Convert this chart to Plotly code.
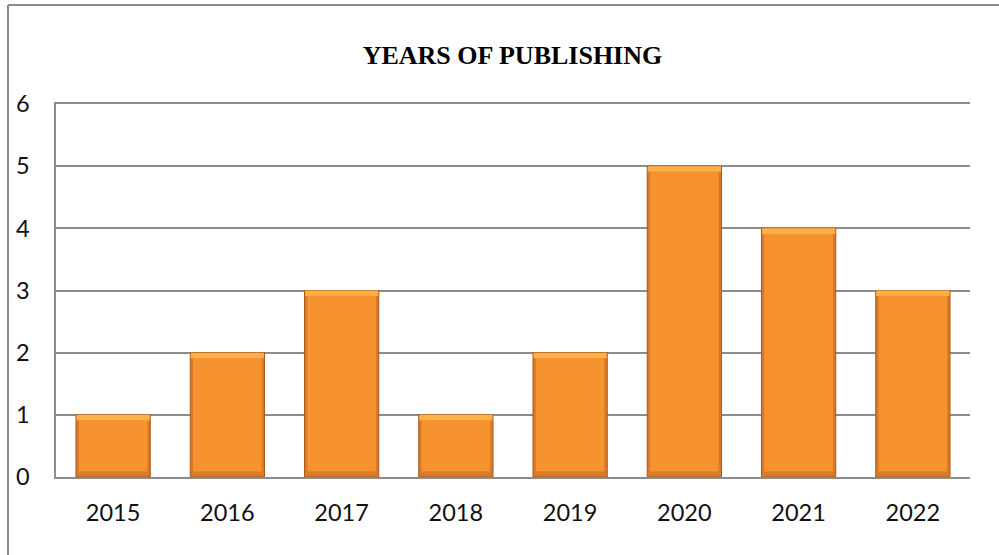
import plotly.graph_objects as go

years = ["2015", "2016", "2017", "2018", "2019", "2020", "2021", "2022"]
counts = [1, 2, 3, 1, 2, 5, 4, 3]
y_ticks = [0, 1, 2, 3, 4, 5, 6]
title_text = "YEARS OF PUBLISHING"

bar_w = 0.65
inner_w = 0.60
bevel = 0.09
n = len(counts)

fig = go.Figure()
# outer (edge) bar
fig.add_trace(go.Bar(
    x=years, y=counts, width=[bar_w] * n,
    marker=dict(color="#D9792A", line=dict(color="#A8591A", width=1)),
    hoverinfo="skip", showlegend=False,
))
# inner face
fig.add_trace(go.Bar(
    x=years, y=[c - 2 * bevel for c in counts], base=[bevel] * n, width=[inner_w] * n,
    marker=dict(color="#F7932E", line=dict(width=0)),
    hoverinfo="skip", showlegend=False,
))
# top bevel highlight
fig.add_trace(go.Bar(
    x=years, y=[bevel] * n, base=[c - bevel for c in counts], width=[bar_w - 0.01] * n,
    marker=dict(color="#FDB04A", line=dict(width=0)),
    hoverinfo="skip", showlegend=False,
))

fig.update_layout(
    width=999, height=555,
    margin=dict(l=56, r=29, t=104, b=78),
    paper_bgcolor="white", plot_bgcolor="white",
    barmode="overlay",
    title=dict(text=f"<b>{title_text}</b>", x=0.513, xanchor="center",
               y=1 - 55 / 555, yanchor="middle",
               font=dict(family="Liberation Serif", size=26, color="black")),
    font=dict(family="Lato", size=23.5, color="#111111"),
)
fig.update_yaxes(
    range=[0, 6], tickvals=y_ticks, ticktext=[str(v) for v in y_ticks],
    showgrid=True, gridcolor="#8C8C8C", gridwidth=1.5,
    zeroline=False, showline=True, linecolor="#8C8C8C", linewidth=1.5,
    ticks="", ticklabelstandoff=20, fixedrange=True,
)
fig.update_xaxes(
    showgrid=False, showline=True, linecolor="#8C8C8C", linewidth=1.5, mirror=True,
    ticks="", ticklabelstandoff=14,
)
# outer chart border (left and top)
fig.add_shape(type="line", xref="paper", yref="paper",
              x0=(8 - 56) / 914, x1=(8 - 56) / 914, y0=-1, y1=(555 - 5 - 78) / 373,
              line=dict(color="#8C8C8C", width=2))
fig.add_shape(type="line", xref="paper", yref="paper",
              x0=(8 - 56) / 914, x1=1.2, y0=(555 - 5 - 78) / 373, y1=(555 - 5 - 78) / 373,
              line=dict(color="#8C8C8C", width=2))

fig.write_html("out.html")
